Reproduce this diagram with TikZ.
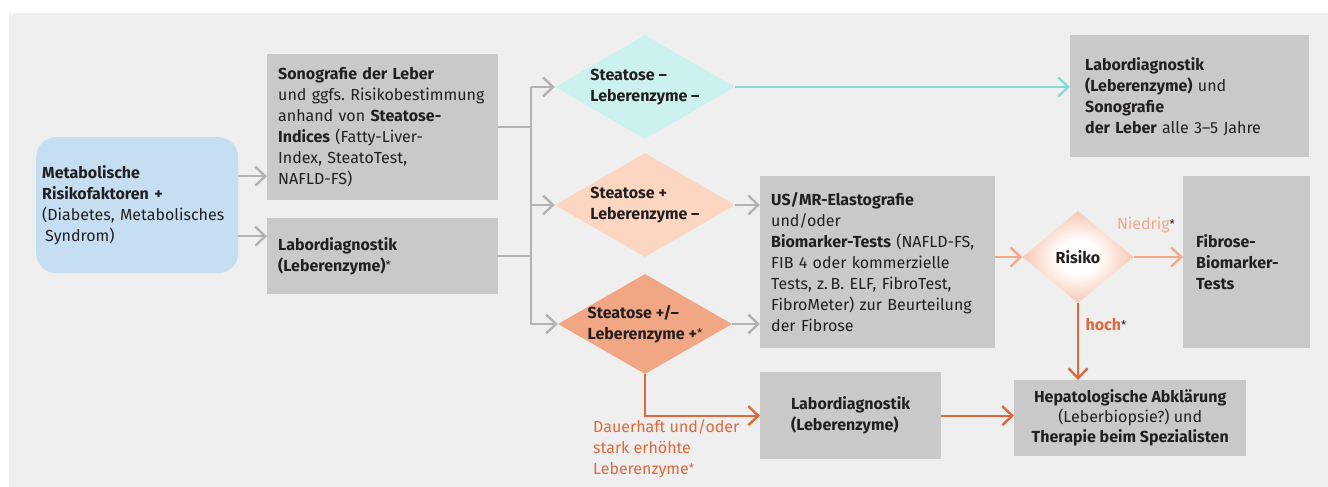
\documentclass[tikz,border=0pt]{standalone}
\usepackage{fontspec}
\setmainfont{Fira Sans}
\usetikzlibrary{shapes.geometric,arrows.meta}
\frenchspacing

\definecolor{bgc}{HTML}{EFEFEF}
\definecolor{boxgray}{HTML}{C8C9C8}
\definecolor{txt}{HTML}{231F20}
\definecolor{blueL}{HTML}{C5DEF2}
\definecolor{cyanF}{HTML}{CBF2EF}
\definecolor{cyanD}{HTML}{86DCD4}
\definecolor{orgF}{HTML}{FCD6C1}
\definecolor{orgM}{HTML}{F2A784}
\definecolor{orgL}{HTML}{F4AA88}
\definecolor{orgD}{HTML}{E2683A}
\definecolor{lgray}{HTML}{B3B3B3}
\definecolor{riskc}{HTML}{F3A886}

\pgfdeclareradialshading{riskshade}{\pgfpoint{0bp}{0bp}}{%
  color(0bp)=(white); color(9bp)=(white); color(34bp)=(riskc); color(50bp)=(riskc)}

\newcommand{\stern}{\raisebox{1.5pt}{\fontsize{12pt}{12pt}\selectfont\mdseries *}}

\begin{document}
\begin{tikzpicture}[x=1pt, y=-1pt,
    every node/.style={font=\fontsize{16pt}{21pt}\selectfont, text=txt},
    grbox/.style={fill=boxgray, anchor=north west, align=left, inner xsep=#1, inner ysep=0pt},
    dia/.style={diamond, inner sep=0pt},
    dtxt/.style={align=left, inner sep=0pt, font=\fontsize{16pt}{21pt}\selectfont\bfseries},
    lbl/.style={inner sep=0pt},
    >={Straight Barb[length=10pt,width=19pt]},
    garrow/.style={->, draw=lgray, line width=2.4pt},
    carrow/.style={->, draw=cyanD, line width=2.4pt},
    larrow/.style={->, draw=orgL, line width=2.4pt},
    darrow/.style={->, draw=orgD, line width=2.4pt},
  ]
  \useasboundingbox (0,0) rectangle (1328,487);
  \fill[bgc] (9,13) rectangle (1328,487);              % background
  %
  \node[grbox=6pt, fill=blueL, rounded corners=20pt, text width=190pt,
        minimum height=136pt] (metab) at (36,137)
    {\textbf{Metabolische}\\\textbf{Risikofaktoren +}\\(Diabetes, Metabolisches\\\hspace{3pt}Syndrom)};
  \node[grbox=11pt, text width=209pt, minimum height=146pt] (sono) at (267,54)
    {\textbf{Sonografie der Leber}\\und ggfs. Risikobestimmung\\anhand von \textbf{Steatose-}\\
     \textbf{Indices} (Fatty-Liver-\\Index, SteatoTest,\\NAFLD-FS)};
  \node[grbox=11pt, text width=209pt, minimum height=76pt] (labA) at (267,218)
    {\textbf{Labordiagnostik}\\\textbf{(Leberenzyme)}\stern};
  %
  \node[dia, fill=cyanF, minimum width=180pt, minimum height=104pt] (d1) at (645,87) {};
  \node[dtxt] (d1t) at (d1) {Steatose –\\Leberenzyme –};
  \node[dia, fill=orgF, minimum width=180pt, minimum height=104pt] (d2) at (645,205) {};
  \node[dtxt] (d2t) at (d2) {Steatose +\\Leberenzyme –};
  \node[dia, fill=orgM, minimum width=174pt, minimum height=100pt] (d3) at (645,324) {};
  \node[dtxt] (d3t) at (d3) {Steatose +/–\\Leberenzyme +\stern};
  %
  \node[grbox=15pt, text width=209pt, minimum height=122pt] (lab5) at (1070,35)
    {\textbf{Labordiagnostik}\\\textbf{(Leberenzyme)} und\\\textbf{Sonografie}\\\textbf{der Leber} alle 3–5 Jahre};
  \node[grbox=11pt, text width=213pt, minimum height=172pt] (usmr) at (760,176)
    {\textbf{US/MR-Elastografie}\\und/oder\\\textbf{Biomarker-Tests} (NAFLD-FS,\\FIB 4 oder kommerzielle\\
     Tests, z.\,B. ELF, FibroTest,\\FibroMeter) zur Beurteilung\\der Fibrose};
  \node[dia, shading=riskshade, minimum width=111pt, minimum height=92pt] (risk) at (1078,257) {};
  \node[dtxt] (riskt) at (risk) {Risiko};
  \node[grbox=13pt, text width=101pt, minimum height=172pt] (fib) at (1183,176)
    {\textbf{Fibrose-}\\\textbf{Biomarker-}\\\textbf{Tests}};
  \node[grbox=0pt, minimum width=181pt, minimum height=87pt] (lab2) at (760,372)
    {\textbf{Labordiagnostik}\\\textbf{(Leberenzyme)}};
  \node[grbox=0pt, align=center, minimum width=232pt, minimum height=76pt,
        font=\fontsize{16pt}{20pt}\selectfont] (hepa) at (1014,380)
    {\textbf{Hepatologische Abklärung}\\(Leberbiopsie?) und\\\textbf{Therapie beim Spezialisten}};
  %
  \node[lbl, text=orgL] (niedrig) at (1146,225) {Niedrig{\color{txt}\stern}};
  \node[lbl, text=orgD] (hoch) at (1106,325) {\textbf{hoch}{\color{txt}\stern}};
  \node[lbl, text=orgD, anchor=north west, align=left] (dauer) at (593,419)
    {Dauerhaft und/oder\\stark erhöhte\\Leberenzyme\stern};
  %
  \coordinate (trunk) at (531,0);
  \draw[garrow] ([yshift=29pt]metab.east) coordinate (m1) -- (m1 -| sono.west);
  \draw[garrow] ([yshift=-31pt]metab.east) coordinate (m2) -- (m2 -| labA.west);
  \draw[lgray, line width=2.4pt] (sono.east) -- (sono.east -| trunk);
  \draw[lgray, line width=2.4pt] (labA.east) -- (labA.east -| trunk);
  \draw[garrow] (d1.west -| trunk) -- (d1.west);
  \draw[garrow] (d2.west -| trunk) -- (d2.west);
  \draw[garrow] (d1.west -| trunk) -- (d3.west -| trunk) -- (d3.west);
  \draw[garrow] (d2.east) -- (d2.east -| usmr.west);
  \draw[garrow] (d3.east) -- (d3.east -| usmr.west);
  %
  \draw[carrow] (d1.east) -- (d1.east -| lab5.west);
  \draw[larrow] (usmr.east |- risk.west) -- (risk.west);
  \draw[larrow] (risk.east) -- (risk.east -| fib.west);
  \draw[darrow] (risk.south) -- (risk.south |- hepa.north);
  \draw[darrow] (d3.south) |- (lab2.west);
  \draw[darrow] (lab2.east) -- (lab2.east -| hepa.west);
\end{tikzpicture}
\end{document}
